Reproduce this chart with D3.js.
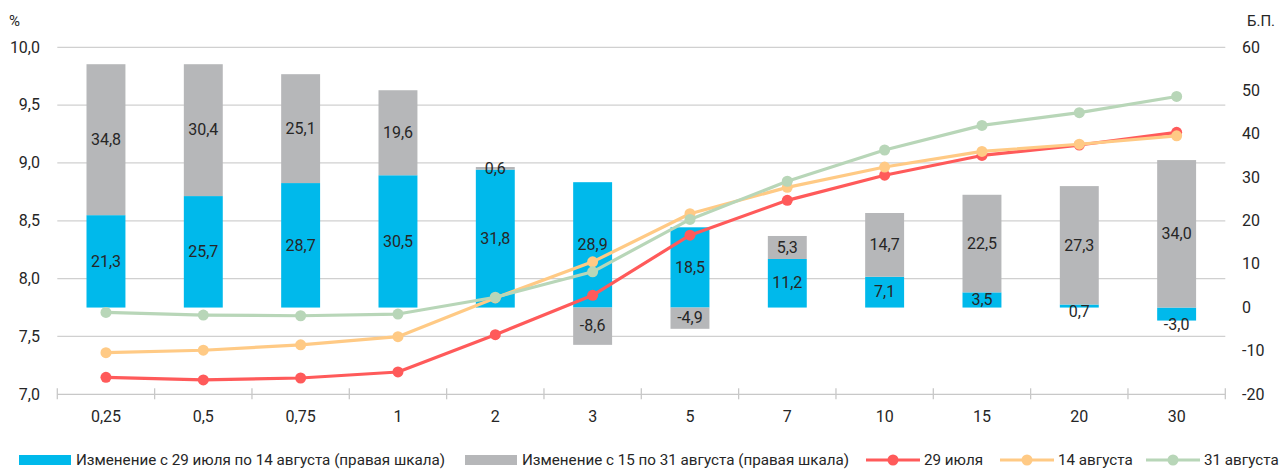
<!DOCTYPE html>
<html>
<head>
<meta charset="utf-8">
<script src="https://cdn.jsdelivr.net/npm/d3@7"></script>
<style>
  html, body { margin: 0; padding: 0; background: #fff; }
  svg { display: block; }
  text { font-family: Roboto, "Noto Sans", sans-serif; fill: #262626; }
</style>
</head>
<body>
<svg id="chart" width="1279" height="470"></svg>
<script>
// ---- data ----
const categories = ["0,25", "0,5", "0,75", "1", "2", "3", "5", "7", "10", "15", "20", "30"];
const changeJul29Aug14 = [21.3, 25.7, 28.7, 30.5, 31.8, 28.9, 18.5, 11.2, 7.1, 3.5, 0.7, -3.0];
const changeAug15Aug31 = [34.8, 30.4, 25.1, 19.6, 0.6, -8.6, -4.9, 5.3, 14.7, 22.5, 27.3, 34.0];
const yieldJul29 = [7.147, 7.124, 7.141, 7.193, 7.515, 7.856, 8.376, 8.677, 8.894, 9.065, 9.155, 9.265];
const yieldAug14 = [7.360, 7.381, 7.428, 7.498, 7.833, 8.145, 8.561, 8.789, 8.965, 9.100, 9.162, 9.235];
const yieldAug31 = [7.708, 7.685, 7.679, 7.694, 7.839, 8.059, 8.512, 8.842, 9.112, 9.325, 9.435, 9.575];
const leftTicks = [7.0, 7.5, 8.0, 8.5, 9.0, 9.5, 10.0];
const rightTicks = [-20, -10, 0, 10, 20, 30, 40, 50, 60];

const barSeriesNames = ["Изменение с 29 июля по 14 августа (правая шкала)", "Изменение с 15 по 31 августа (правая шкала)"];
const lineSeriesNames = ["29 июля", "14 августа", "31 августа"];
const barColors = ["#00B9EB", "#B6B7B9"];
const lineColors = ["#FF5A5A", "#FFCA85", "#B8D6B8"];

// ---- layout ----
const svg = d3.select("#chart");
const plotL = 57.3, plotR = 1225.3, plotT = 47.3, plotB = 394.3;

const x = d3.scaleBand().domain(categories).range([plotL, plotR]).paddingInner(0.6).paddingOuter(0.3);
const yL = d3.scaleLinear().domain([7.0, 10.0]).range([plotB, plotT]);
const yR = d3.scaleLinear().domain([-20, 60]).range([plotB, plotT]);
const fmt = v => d3.format(".1f")(v).replace(".", ",").replace("−", "-");

// gridlines
svg.append("g").selectAll("line").data(leftTicks.filter(t => t > 7.0)).join("line")
  .attr("x1", plotL).attr("x2", plotR)
  .attr("y1", d => yL(d)).attr("y2", d => yL(d))
  .attr("stroke", "#D0D0D0").attr("stroke-width", 1.2);

// x axis line & ticks
const xAxisG = svg.append("g");
xAxisG.append("line").attr("x1", plotL).attr("x2", plotR).attr("y1", plotB).attr("y2", plotB)
  .attr("stroke", "#C8C8C8").attr("stroke-width", 1.3);
const step = x.step();
xAxisG.selectAll("line.tick").data(d3.range(categories.length + 1)).join("line")
  .attr("class", "tick")
  .attr("x1", i => plotL + i * step).attr("x2", i => plotL + i * step)
  .attr("y1", plotB - 6).attr("y2", plotB + 5)
  .attr("stroke", "#C8C8C8").attr("stroke-width", 1.3);
xAxisG.selectAll("text").data(categories).join("text")
  .attr("x", d => x(d) + x.bandwidth() / 2).attr("y", plotB + 23)
  .attr("text-anchor", "middle").attr("dominant-baseline", "middle")
  .attr("font-size", 16).text(d => d);

// left axis labels
svg.append("g").selectAll("text").data(leftTicks).join("text")
  .attr("x", 40).attr("y", d => yL(d) + 1)
  .attr("text-anchor", "end").attr("dominant-baseline", "middle")
  .attr("font-size", 16).text(d => fmt(d));
svg.append("text").attr("x", 9).attr("y", 22).attr("dominant-baseline", "middle")
  .attr("font-size", 15).text("%");

// right axis labels
svg.append("g").selectAll("text").data(rightTicks).join("text")
  .attr("x", 1242).attr("y", d => yR(d) + 1)
  .attr("text-anchor", "start").attr("dominant-baseline", "middle")
  .attr("font-size", 16).text(d => d);
svg.append("text").attr("x", 1247).attr("y", 22).attr("dominant-baseline", "middle")
  .attr("font-size", 15).text("Б.П.");

// stacked bars (diverging)
const table = categories.map((c, i) => ({ cat: c, a: changeJul29Aug14[i], b: changeAug15Aug31[i] }));
const stack = d3.stack().keys(["a", "b"]).offset(d3.stackOffsetDiverging);
const stacked = stack(table);

const barG = svg.append("g");
stacked.forEach((layer, k) => {
  barG.selectAll(null).data(layer).join("rect")
    .attr("x", d => x(d.data.cat))
    .attr("width", x.bandwidth())
    .attr("y", d => yR(Math.max(d[0], d[1])))
    .attr("height", d => Math.abs(yR(d[0]) - yR(d[1])))
    .attr("fill", barColors[k]);
});

// lines
const lineG = svg.append("g");
const lineData = [yieldJul29, yieldAug14, yieldAug31];
const lineGen = d3.line().x((d, i) => x(categories[i]) + x.bandwidth() / 2).y(d => yL(d));
lineData.forEach((vals, k) => {
  lineG.append("path").attr("d", lineGen(vals)).attr("fill", "none")
    .attr("stroke", lineColors[k]).attr("stroke-width", 3.2).attr("stroke-linejoin", "round");
  lineG.selectAll(null).data(vals).join("circle")
    .attr("cx", (d, i) => x(categories[i]) + x.bandwidth() / 2)
    .attr("cy", d => yL(d)).attr("r", 5.5).attr("fill", lineColors[k]);
});

// bar labels
const labG = svg.append("g");
stacked.forEach((layer, k) => {
  labG.selectAll(null).data(layer).join("text")
    .attr("x", d => x(d.data.cat) + x.bandwidth() / 2)
    .attr("y", d => {
      const y0 = yR(d[0]), y1 = yR(d[1]);
      const h = Math.abs(y0 - y1);
      const c = (y0 + y1) / 2;
      const touchesZero = d[0] === 0 || d[1] === 0;
      if (h < 14 && touchesZero && k === 0) return Math.max(y0, y1) + 5.5;
      return c + 1;
    })
    .attr("text-anchor", "middle").attr("dominant-baseline", "middle")
    .attr("font-size", 16)
    .text(d => fmt(d.data[k === 0 ? "a" : "b"]));
});

// legend
const legY = 460;
const leg = svg.append("g");
const barLegX = [19, 465];
barSeriesNames.forEach((name, k) => {
  leg.append("rect").attr("x", barLegX[k]).attr("y", legY - 5).attr("width", 52).attr("height", 10)
    .attr("fill", barColors[k]);
  leg.append("text").attr("x", barLegX[k] + 57).attr("y", legY + 1).attr("dominant-baseline", "middle")
    .attr("font-size", 15.2).text(name);
});
const lineLegX = [866, 1000, 1146];
lineSeriesNames.forEach((name, k) => {
  leg.append("line").attr("x1", lineLegX[k]).attr("x2", lineLegX[k] + 54)
    .attr("y1", legY).attr("y2", legY).attr("stroke", lineColors[k]).attr("stroke-width", 3.2);
  leg.append("circle").attr("cx", lineLegX[k] + 27).attr("cy", legY).attr("r", 5.5).attr("fill", lineColors[k]);
  leg.append("text").attr("x", lineLegX[k] + 58).attr("y", legY + 1).attr("dominant-baseline", "middle")
    .attr("font-size", 15.2).text(name);
});
</script>
</body>
</html>
